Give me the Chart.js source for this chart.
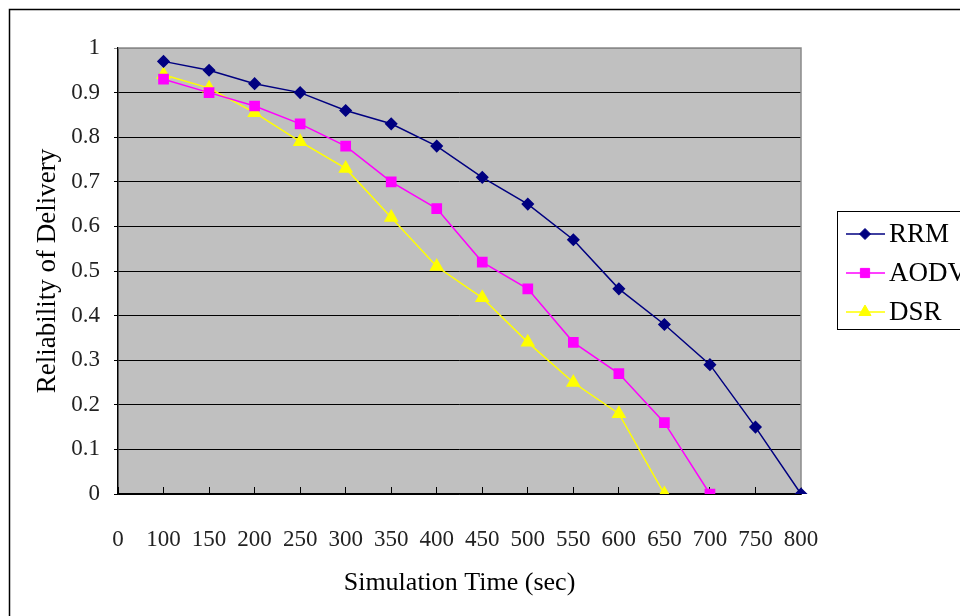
<!DOCTYPE html>
<html>
<head>
<meta charset="utf-8">
<script src="https://cdn.jsdelivr.net/npm/chart.js@4"></script>
<style>
  body { margin: 0; background: #fff; }
  #wrap { width: 960px; height: 616px; }
</style>
</head>
<body>
<div id="wrap"><canvas id="chart-line"></canvas></div>
<script>
// dados
var categories = ["0", "100", "150", "200", "250", "300", "350", "400", "450", "500", "550", "600", "650", "700", "750", "800"];
var rrmValues = [null, 0.97, 0.95, 0.92, 0.90, 0.86, 0.83, 0.78, 0.71, 0.65, 0.57, 0.46, 0.38, 0.29, 0.15, 0];
var aodvValues = [null, 0.93, 0.90, 0.87, 0.83, 0.78, 0.70, 0.64, 0.52, 0.46, 0.34, 0.27, 0.16, 0, null, null];
var dsrValues = [null, 0.94, 0.91, 0.855, 0.79, 0.73, 0.62, 0.51, 0.44, 0.34, 0.25, 0.18, 0, null, null, null];
var seriesNames = ["RRM", "AODV", "DSR"];

var serif = "'Liberation Serif', 'Times New Roman', serif";

// fundo cinza, bordas e moldura externa
var frame = {
  id: 'frame',
  beforeDraw: function(chart) {
    var c = chart.ctx, a = chart.chartArea;
    c.save();
    c.fillStyle = '#c0c0c0';
    c.fillRect(a.left, a.top, a.right - a.left, a.bottom - a.top);
    c.strokeStyle = '#000';
    c.lineWidth = 1.5;
    c.beginPath();
    c.moveTo(9.5, 616);
    c.lineTo(9.5, 9.5);
    c.lineTo(960, 9.5);
    c.stroke();
    c.restore();
  },
  beforeDatasetsDraw: function(chart) {
    var c = chart.ctx, a = chart.chartArea;
    c.save();
    c.strokeStyle = '#8a8a8a';
    c.lineWidth = 1.5;
    c.beginPath();
    c.moveTo(a.left, a.top);
    c.lineTo(a.right, a.top);
    c.lineTo(a.right, a.bottom);
    c.stroke();
    c.restore();
  }
};

// legenda com caixa, linha e marcador
var boxLegend = {
  id: 'boxLegend',
  afterDraw: function(chart) {
    var c = chart.ctx;
    c.save();
    c.strokeStyle = '#000';
    c.lineWidth = 1;
    c.strokeRect(837.5, 211.5, 140, 118);
    chart.data.datasets.forEach(function(ds, i) {
      var y = 234 + i * 39;
      c.strokeStyle = ds.borderColor;
      c.lineWidth = ds.borderWidth;
      c.beginPath();
      c.moveTo(846, y);
      c.lineTo(885, y);
      c.stroke();
      c.fillStyle = ds.pointBackgroundColor;
      c.strokeStyle = ds.pointBorderColor;
      c.lineWidth = 1;
      Chart.helpers.drawPoint(c, { pointStyle: ds.pointStyle, radius: ds.pointRadius, rotation: 0, borderWidth: 1 }, 865, y);
      c.fillStyle = '#000';
      c.font = "27px " + serif;
      c.textBaseline = 'middle';
      c.fillText(ds.label, 889, y + 1);
    });
    c.restore();
  }
};

var ctx = document.getElementById("chart-line").getContext("2d");

new Chart(ctx, {
  type: "line",
  data: {
    labels: categories,
    datasets: [{
      label: seriesNames[0],
      data: rrmValues,
      borderColor: "#000080",
      backgroundColor: "#000080",
      pointBackgroundColor: "#000080",
      pointBorderColor: "#000080",
      borderWidth: 1.5,
      pointStyle: 'rectRot',
      pointRadius: 5.5,
      tension: 0
    }, {
      label: seriesNames[1],
      data: aodvValues,
      borderColor: "#ff00ff",
      backgroundColor: "#ff00ff",
      pointBackgroundColor: "#ff00ff",
      pointBorderColor: "#ff00ff",
      borderWidth: 1.5,
      pointStyle: 'rect',
      pointRadius: 6.5,
      tension: 0
    }, {
      label: seriesNames[2],
      data: dsrValues,
      borderColor: "#ffff00",
      backgroundColor: "#ffff00",
      pointBackgroundColor: "#ffff00",
      pointBorderColor: "#ffff00",
      borderWidth: 1.5,
      pointStyle: 'triangle',
      pointRadius: 7,
      tension: 0
    }]
  },
  options: {
    responsive: true,
    maintainAspectRatio: false,
    animation: false,
    layout: {
      padding: { top: 48, right: 159, left: 0, bottom: 0 }
    },
    plugins: {
      legend: { display: false },
      tooltip: { enabled: false }
    },
    scales: {
      x: {
        offset: false,
        afterFit: function(scale) { scale.height = 122; },
        grid: {
          drawOnChartArea: false,
          drawTicks: true,
          tickLength: -7,
          color: '#000',
          lineWidth: 1
        },
        border: { color: '#000', width: 1.5 },
        ticks: {
          autoSkip: false,
          maxRotation: 0,
          padding: 39,
          color: '#222',
          font: { size: 23, family: serif }
        },
        title: {
          display: true,
          text: 'Simulation Time (sec)',
          color: '#000',
          font: { size: 26, family: serif },
          padding: { top: 0, bottom: 17 }
        }
      },
      y: {
        min: 0,
        max: 1,
        afterFit: function(scale) { scale.width = 118; },
        grid: {
          color: function(c) { return c.tick && c.tick.value === 1 ? '#8a8a8a' : '#000'; },
          lineWidth: 1,
          tickLength: 4
        },
        border: { color: '#000', width: 1.5 },
        ticks: {
          stepSize: 0.1,
          padding: 14,
          color: '#222',
          font: { size: 23, family: serif },
          callback: function(v) { return String(Math.round(v * 10) / 10); }
        },
        title: {
          display: true,
          text: 'Reliability of Delivery',
          color: '#000',
          font: { size: 27, family: serif },
          padding: { top: 32, bottom: 0 }
        }
      }
    }
  },
  plugins: [frame, boxLegend]
});
</script>
</body>
</html>
